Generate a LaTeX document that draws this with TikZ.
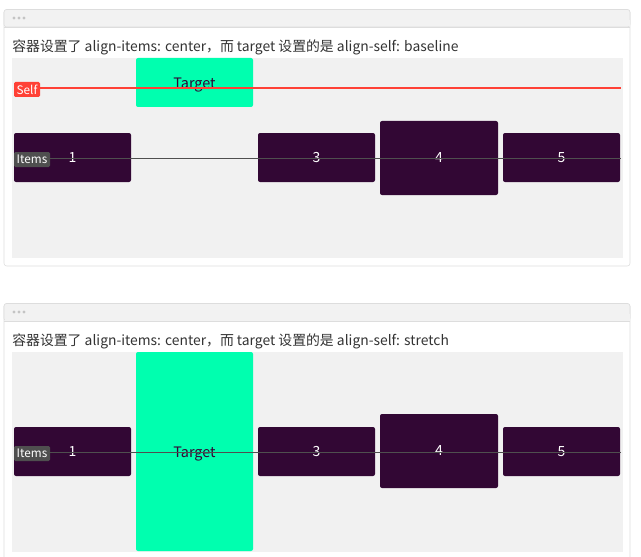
\documentclass[tikz,border=0pt]{standalone}
\usepackage{fontspec}
\newfontfamily\cjk{Noto Sans CJK SC}
\definecolor{cardline}{HTML}{DDDDDD}
\definecolor{headgray}{HTML}{F2F2F2}
\definecolor{dotgray}{HTML}{C4C4C4}
\definecolor{boxgray}{HTML}{F1F1F1}
\definecolor{itempurple}{HTML}{320734}
\definecolor{targetgreen}{HTML}{00FFAF}
\definecolor{selfred}{RGB}{255,65,54}
\definecolor{itemsgray}{HTML}{4F4F4F}
\definecolor{textgray}{HTML}{333333}
\tikzset{
  itembox/.style={fill=itempurple, rounded corners=1.5pt, text=white, font=\cjk\fontsize{10.5pt}{12pt}\selectfont,
    minimum width=87.75pt, minimum height=36.75pt, inner sep=0pt},
  bigbox/.style={itembox, minimum width=88.5pt, minimum height=55.5pt},
  targetbox/.style={fill=targetgreen, rounded corners=1.5pt, minimum width=87.75pt, inner sep=0pt},
  targettext/.style={anchor=base, text=itempurple, inner sep=0pt, font=\cjk\fontsize{10.8pt}{12pt}\selectfont},
  tag/.style={rounded corners=1pt, text=white, font=\cjk\fontsize{8.8pt}{10pt}\selectfont,
    minimum height=11.25pt, inner sep=1pt},
  caption/.style={anchor=base west, text=textgray, inner sep=0pt, font=\cjk\fontsize{10.4pt}{12pt}\selectfont},
  selfline/.style={draw=selfred, line width=0.8pt},
  itemsline/.style={draw=itemsgray, line width=0.75pt},
}
\begin{document}
\begin{tikzpicture}[x=0.75pt, y=-0.75pt]
  \useasboundingbox (0,0) rectangle (641,556);
  \fill[white] (0,0) rectangle (641,556);

  % Card one: align-self baseline
  \draw[cardline, fill=white, rounded corners=2pt] (4,9.5) rectangle (630,266);
  \draw[cardline, fill=headgray, rounded corners=2pt] (4,9.5) rectangle (630,27);
  \fill[headgray] (4.5,20) rectangle (629.5,26.5);
  \draw[cardline] (4,27) -- (630,27);
  \fill[dotgray] (14,18) circle (1.6) (19,18) circle (1.6) (24,18) circle (1.6);
  \node[caption] (capA) at (12,51.5) {容器设置了 align-items: center，而 target 设置的是 align-self: baseline};
  \fill[boxgray] (12,58) rectangle (623,258);

  % Items of card one
  \node[targetbox, minimum height=36.75pt] (targetA) at (194.5,82.5) {};
  \node[targettext] (targetlabelA) at (194.5,88.5) {Target};
  \node[itembox] (oneA) at (72.5,157.5) {1};
  \node[itembox] (threeA) at (316.5,157.5) {3};
  \node[bigbox] (fourA) at (439,158) {4};
  \node[itembox] (fiveA) at (561.5,157.5) {5};

  % Baselines of card one
  \node[tag, fill=selfred, minimum width=19.5pt] (selfA) at (27,89.5) {Self};
  \coordinate (selfendA) at (621,88);
  \path[selfline] (selfA.east |- selfendA) -- (selfendA);
  \node[tag, fill=itemsgray, minimum width=27pt] (itemsA) at (32,159.5) {Items};
  \coordinate (itemsendA) at (621,158);
  \path[itemsline] (itemsA.east |- itemsendA) -- (itemsendA);

  % Card two: align-self stretch
  \draw[cardline, fill=white, rounded corners=2pt] (4,303.5) rectangle (630,570);
  \draw[cardline, fill=headgray, rounded corners=2pt] (4,303.5) rectangle (630,321);
  \fill[headgray] (4.5,314) rectangle (629.5,320.5);
  \draw[cardline] (4,321) -- (630,321);
  \fill[dotgray] (14,312) circle (1.6) (19,312) circle (1.6) (24,312) circle (1.6);
  \node[caption] (capB) at (12,345.5) {容器设置了 align-items: center，而 target 设置的是 align-self: stretch};
  \fill[boxgray] (12,352) rectangle (623,552);

  % Items of card two
  \node[targetbox, minimum height=149.25pt] (targetB) at (194.5,451.5) {};
  \node[targettext] (targetlabelB) at (194.5,457) {Target};
  \node[itembox] (oneB) at (72.5,451.5) {1};
  \node[itembox] (threeB) at (316.5,451.5) {3};
  \node[bigbox] (fourB) at (439,451) {4};
  \node[itembox] (fiveB) at (561.5,451.5) {5};

  % Baseline of card two
  \node[tag, fill=itemsgray, minimum width=27pt] (itemsB) at (32,453.5) {Items};
  \coordinate (itemsendB) at (621,452);
  \path[itemsline] (itemsB.east |- itemsendB) -- (itemsendB);
\end{tikzpicture}
\end{document}
